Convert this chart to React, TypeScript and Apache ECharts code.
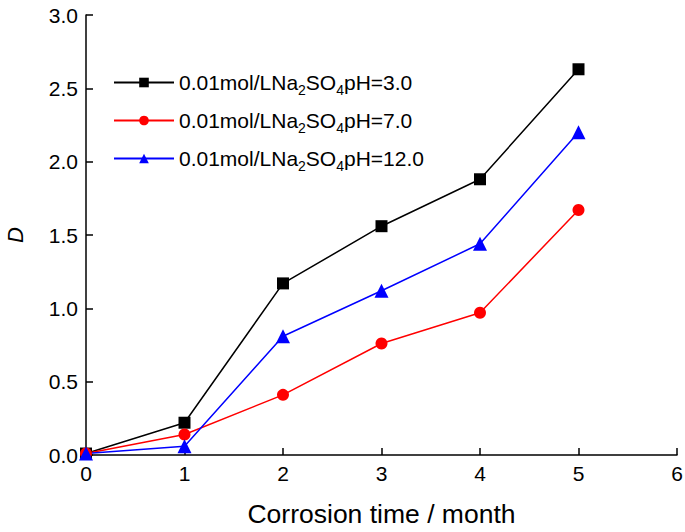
import React, { useEffect, useRef } from "react";
import * as echarts from "echarts";

const months = [0, 1, 2, 3, 4, 5];
const ph3 = [0.01, 0.22, 1.17, 1.56, 1.88, 2.63];
const ph7 = [0.01, 0.14, 0.41, 0.76, 0.97, 1.67];
const ph12 = [0.01, 0.06, 0.81, 1.12, 1.44, 2.2];
const seriesNames = ["pH=3.0", "pH=7.0", "pH=12.0"];
const colors = ["#000000", "#ff0000", "#0000ff"];
const symbols = ["rect", "circle", "triangle"];

export default function App() {
  const ref = useRef<HTMLDivElement>(null);
  useEffect(() => {
    const chart = echarts.init(ref.current!, null, { renderer: "svg" });
    const datasets = [ph3, ph7, ph12];
    const font = "Liberation Sans, Arial, sans-serif";
    chart.setOption({
      animation: false,
      textStyle: { fontFamily: font },
      grid: { left: 86, right: 8, top: 15, bottom: 77, outerBoundsMode: "none" },
      legend: {
        left: 108,
        top: 67,
        orient: "vertical",
        itemGap: 13.5,
        itemWidth: 60,
        itemHeight: 12,
        data: seriesNames,
        formatter: (name: string) =>
          "{t|0.01mol/LNa}{s|2}{t|SO}{s|4}{t|" + name + "}",
        textStyle: {
          rich: {
            t: { fontSize: 21, color: "#000", fontFamily: font },
            s: { fontSize: 14, color: "#000", fontFamily: font, padding: [14, 0, 0, 0] },
          },
        },
      },
      xAxis: {
        type: "value",
        min: 0,
        max: 6,
        interval: 1,
        name: "Corrosion time / month",
        nameLocation: "middle",
        nameGap: 45,
        nameTextStyle: { fontSize: 26.5, color: "#000" },
        axisLine: { onZero: false, lineStyle: { color: "#000", width: 1.5 } },
        axisTick: { inside: true, length: 7, lineStyle: { color: "#000", width: 1.5 } },
        axisLabel: { fontSize: 21, color: "#000", margin: 8 },
        splitLine: { show: false },
      },
      yAxis: {
        type: "value",
        min: 0,
        max: 3,
        interval: 0.5,
        name: "D",
        nameLocation: "middle",
        nameGap: 60,
        nameTextStyle: { fontSize: 22, color: "#000", fontStyle: "italic" },
        axisLine: { show: true, onZero: false, lineStyle: { color: "#000", width: 1.5 } },
        axisTick: { show: true, inside: true, length: 7, lineStyle: { color: "#000", width: 1.5 } },
        axisLabel: {
          fontSize: 21,
          color: "#000",
          margin: 8,
          formatter: (v: number) => v.toFixed(1),
        },
        splitLine: { show: false },
      },
      series: datasets.map((d, i) => ({
        name: seriesNames[i],
        type: "line",
        data: months.map((m, j) => [m, d[j]]),
        symbol: symbols[i],
        symbolSize: i === 2 ? 14 : 12,
        showAllSymbol: true,
        itemStyle: { color: colors[i] },
        lineStyle: { color: colors[i], width: 1.5 },
      })),
    });
    return () => chart.dispose();
  }, []);
  return (
    <div
      ref={ref}
      style={{ position: "absolute", left: 0, top: 0, width: 685, height: 532 }}
    />
  );
}
